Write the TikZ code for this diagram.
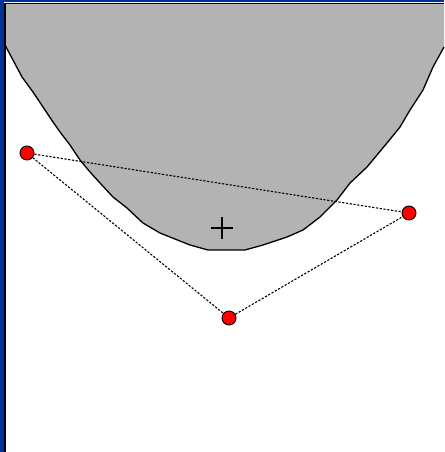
\documentclass[tikz,border=0pt]{standalone}
\usepackage{tikz}
\definecolor{regiongray}{RGB}{179,179,179}
\definecolor{frameblue}{RGB}{0,51,153}
\begin{document}
\begin{tikzpicture}[x=1pt, y=-1pt,
    site/.style={circle, draw, fill=red, minimum size=14pt, inner sep=0pt, line width=0.9pt},
    link/.style={dash pattern=on 2.2pt off 1.6pt, line width=1.1pt}]
    \useasboundingbox (0,0) rectangle (444,452);
    \fill[white] (0,0) rectangle (444,452);

    % Region
    \def\rim{(5,45) -- (22,77) -- (33,92) -- (43,107) -- (53,122) -- (60,132) -- (70,145) -- (80,160)
      -- (90,172) -- (100,183) -- (113,197) -- (127,208) -- (143,223) -- (160,233) -- (190,245)
      -- (208,250) -- (245,250) -- (263,245) -- (287,237) -- (303,230) -- (320,217) -- (337,200)
      -- (350,183) -- (367,167) -- (387,143) -- (400,127) -- (410,110) -- (423,90) -- (433,67) -- (444,47)}
    \fill[regiongray] \rim -- (444,3) -- (5,3) -- cycle;
    \draw[line width=1.3pt, line join=round] \rim;

    % Frame
    \fill[frameblue] (0,0) rectangle (4,452);
    \fill[frameblue] (0,0) rectangle (444,2.5);
    \draw[line width=1.5pt] (4.75,452) -- (4.75,3.5) -- (444,3.5);

    % Centre
    \coordinate (centre) at (222,228);
    \draw[line width=1.2pt] ([xshift=-11pt]centre) -- ([xshift=11pt]centre);
    \draw[line width=1.2pt] ([yshift=11pt]centre) -- ([yshift=-11pt]centre);

    % Nodes
    \node [site] (left) at (27,153) {};
    \node [site] (right) at (409,213) {};
    \node [site] (bottom) at (229,318) {};

    % Links
    \draw [link] (left) -- (right);
    \draw [link] (left) -- (bottom);
    \draw [link] (bottom) -- (right);
\end{tikzpicture}
\end{document}
